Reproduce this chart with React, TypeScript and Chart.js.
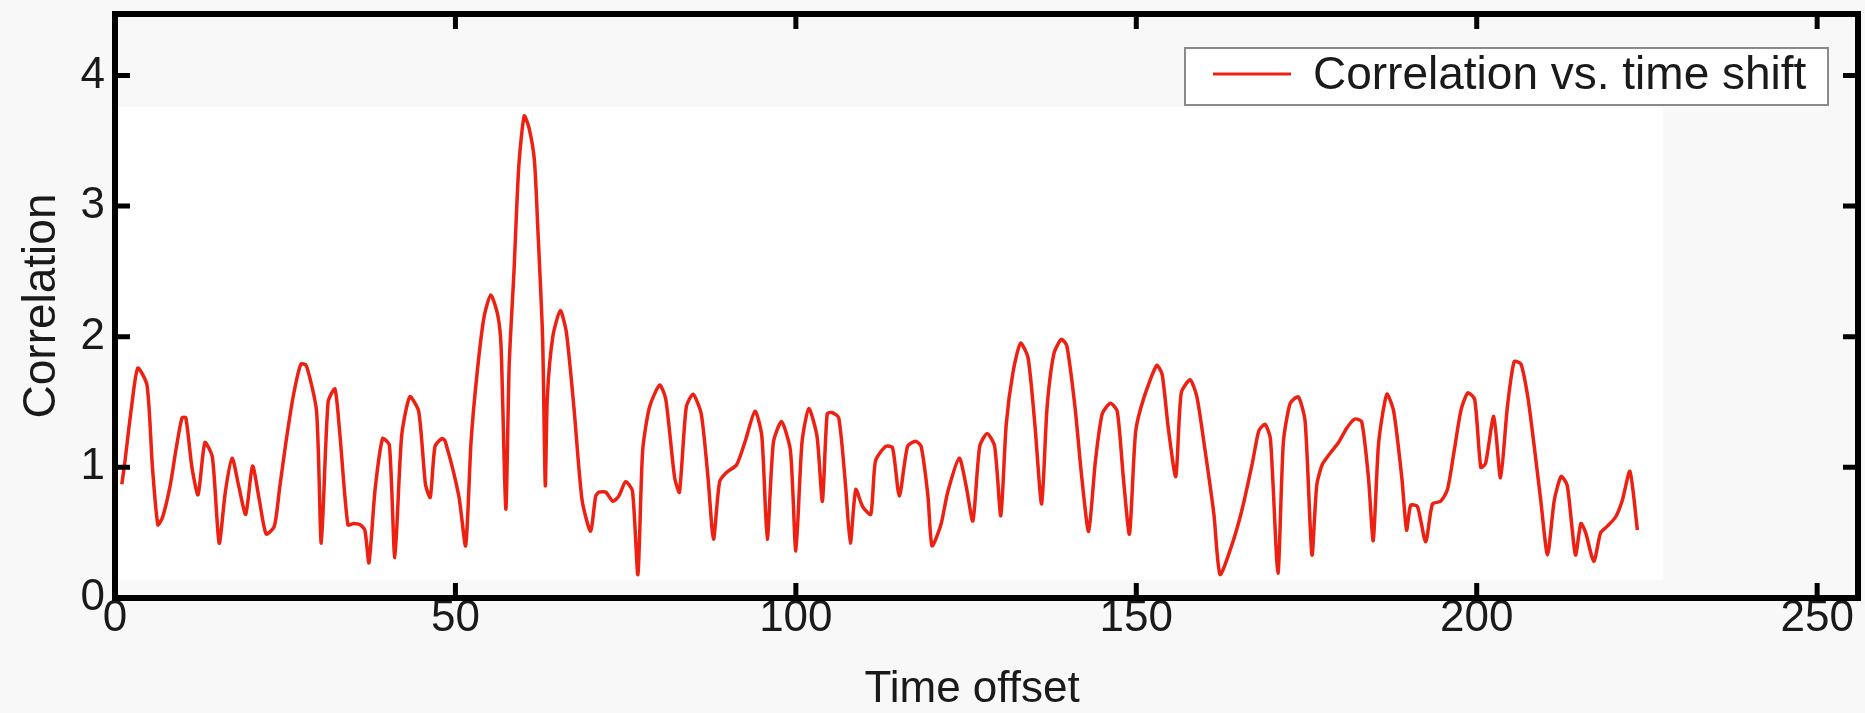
import React, { useEffect, useRef } from "react";
import { Chart, registerables } from "chart.js";

Chart.register(...registerables);

// ---- data ----
const timeOffsets = [
  1.0, 1.4, 2.4, 3.35, 4.7, 5.5, 6.3, 7.0, 8.1, 9.0, 9.85, 10.4, 11.3, 12.2, 13.2, 14.3, 15.3, 16.2, 17.2, 18.2,
  19.2, 20.2, 21.2, 22.2, 23.4, 24.2, 25.1, 26.2, 27.3, 28.1, 29.6, 30.3, 31.3, 32.3, 33.0, 34.2, 35.0, 36.0, 36.7,
  37.3, 38.2, 39.3, 40.3, 41.1, 42.1, 43.3, 44.6, 45.6, 46.3, 47.0, 48.0, 48.5, 50.5, 51.5, 52.3, 53.2, 54.2, 55.2,
  56.2, 56.7, 57.4, 57.9, 58.6, 59.3, 60.1, 60.8, 61.6, 62.1, 62.8, 63.2, 63.5, 64.3, 65.4, 66.3, 67.4, 68.6, 69.85,
  70.6, 71.1, 72.1, 73.1, 74.0, 75.0, 76.0, 76.8, 77.5, 78.5, 80.0, 80.9, 82.2, 82.9, 83.9, 84.9, 86.1, 87.1, 87.9,
  88.8, 89.8, 91.3, 92.5, 94.0, 95.0, 95.8, 96.7, 97.9, 99.2, 100.0, 100.9, 101.9, 103.1, 103.9, 104.6, 105.3, 106.3,
  107.3, 108.0, 108.8, 109.8, 111.0, 111.7, 113.2, 114.2, 115.2, 116.4, 117.6, 118.4, 119.4, 120.0, 121.3, 122.3,
  124.0, 125.0, 126.0, 127.0, 128.1, 129.2, 130.1, 130.9, 131.9, 133.0, 134.1, 135.1, 136.1, 136.9, 137.9, 139.0,
  139.8, 141.0, 142.0, 143.0, 144.0, 145.0, 146.2, 147.2, 148.1, 149.0, 149.9, 151.1, 153.0, 153.8, 154.7, 155.8,
  156.6, 157.9, 158.9, 160.1, 161.4, 162.3, 164.0, 165.5, 167.0, 168.0, 168.9, 169.7, 170.8, 171.6, 172.6, 173.8,
  174.8, 175.8, 176.5, 177.3, 178.5, 179.7, 180.9, 182.1, 183.1, 184.1, 184.8, 185.6, 186.8, 187.8, 189.0, 189.7,
  190.3, 191.3, 192.5, 193.5, 194.7, 195.7, 196.7, 197.7, 198.7, 199.7, 200.6, 201.3, 202.5, 203.5, 204.5, 205.5,
  206.5, 207.5, 208.4, 209.4, 210.4, 211.4, 212.4, 213.3, 214.5, 215.3, 216.0, 217.2, 218.2, 219.2, 220.4, 221.4,
  222.5, 223.6,
];

const correlationValues = [
  0.87, 1.02, 1.45, 1.76, 1.63, 1.0, 0.56, 0.62, 0.86, 1.15, 1.38, 1.38, 1.0, 0.79, 1.19, 1.08, 0.42, 0.81, 1.07, 0.85,
  0.64, 1.01, 0.75, 0.49, 0.55, 0.85, 1.19, 1.55, 1.79, 1.78, 1.43, 0.42, 1.5, 1.6, 1.27, 0.56, 0.57, 0.56, 0.52,
  0.27, 0.83, 1.22, 1.17, 0.31, 1.24, 1.54, 1.43, 0.87, 0.77, 1.16, 1.22, 1.2, 0.78, 0.4, 1.2, 1.73, 2.15, 2.32,
  2.17, 1.93, 0.68, 1.79, 2.5, 3.3, 3.69, 3.6, 3.35, 2.83, 2.0, 0.86, 1.54, 2.0, 2.2, 2.03, 1.46, 0.75, 0.51,
  0.78, 0.81, 0.81, 0.74, 0.78, 0.89, 0.82, 0.18, 1.13, 1.46, 1.63, 1.52, 0.92, 0.81, 1.46, 1.56, 1.41, 0.92, 0.45,
  0.89, 0.96, 1.02, 1.19, 1.43, 1.24, 0.45, 1.19, 1.35, 1.13, 0.36, 1.19, 1.45, 1.24, 0.74, 1.41, 1.42, 1.38,
  0.86, 0.42, 0.83, 0.7, 0.64, 1.05, 1.16, 1.15, 0.78, 1.16, 1.2, 1.16, 0.78, 0.4, 0.56, 0.81,
  1.07, 0.86, 0.59, 1.16, 1.26, 1.16, 0.63, 1.33, 1.73, 1.95, 1.84, 1.33, 0.72, 1.46, 1.87, 1.98,
  1.93, 1.46, 0.92, 0.51, 1.05, 1.41, 1.49, 1.43, 0.92, 0.49, 1.27, 1.53, 1.78, 1.71, 1.3, 0.93,
  1.57, 1.67, 1.54, 1.13, 0.64, 0.18, 0.4, 0.67, 1.02, 1.28, 1.33, 1.22, 0.19, 1.19, 1.49, 1.54,
  1.35, 0.33, 0.86, 1.02, 1.11, 1.19, 1.3, 1.37, 1.35, 0.92, 0.44, 1.19, 1.56, 1.43, 0.92, 0.52,
  0.71, 0.7, 0.43, 0.72, 0.74, 0.83, 1.13, 1.44, 1.57, 1.52, 1.0, 1.03, 1.39, 0.92, 1.46, 1.81,
  1.79, 1.54, 1.18, 0.75, 0.33, 0.75, 0.93, 0.86, 0.33, 0.57, 0.5, 0.28, 0.5, 0.55, 0.62, 0.75,
  0.97, 0.52,
];

const xTickValues = [0, 50, 100, 150, 200, 250];
const yTickValues = [0, 1, 2, 3, 4];
const X_MIN = 0;
const X_MAX = 256;
const Y_MIN = 0;
const Y_MAX = 4.47;

const SERIES_LABEL = "Correlation vs. time shift";
const X_TITLE = "Time offset";
const Y_TITLE = "Correlation";

// ---- styling ----
const LINE_COLOR = "#ee2012";
const TEXT_COLOR = "#1a1a1a";
const PAGE_BG = "#f8f8f8";
const FONT_FAMILY = '"Liberation Sans", Arial, Helvetica, sans-serif';
// lighter (white) background patch behind the trace, as in the reference image (data units)
const whitePatchX = [0, 227.4];
const whitePatchY = [0.14, 3.76];

const backgroundPlugin = {
  id: "bgPatch",
  beforeDraw(chart: any) {
    const { ctx, scales } = chart;
    ctx.save();
    ctx.fillStyle = PAGE_BG;
    ctx.fillRect(0, 0, chart.width, chart.height);
    const x0 = scales.x.getPixelForValue(whitePatchX[0]);
    const x1 = scales.x.getPixelForValue(whitePatchX[1]);
    const y0 = scales.y.getPixelForValue(whitePatchY[1]);
    const y1 = scales.y.getPixelForValue(whitePatchY[0]);
    ctx.fillStyle = "#ffffff";
    ctx.fillRect(x0, y0, x1 - x0, y1 - y0);
    ctx.restore();
  },
};

const framePlugin = {
  id: "frame",
  afterDatasetsDraw(chart: any) {
    const { ctx, chartArea, scales } = chart;
    const { left, right, top, bottom } = chartArea;
    ctx.save();
    ctx.strokeStyle = "#000";
    ctx.lineWidth = 6;
    ctx.lineCap = "butt";
    ctx.strokeRect(left, top, right - left, bottom - top);
    const len = 15;
    ctx.lineWidth = 5;
    ctx.beginPath();
    xTickValues.forEach((v) => {
      if (v <= X_MIN) return;
      const px = scales.x.getPixelForValue(v);
      ctx.moveTo(px, bottom);
      ctx.lineTo(px, bottom - len);
      ctx.moveTo(px, top);
      ctx.lineTo(px, top + len);
    });
    yTickValues.forEach((v) => {
      if (v <= Y_MIN) return;
      const py = scales.y.getPixelForValue(v);
      ctx.moveTo(left, py);
      ctx.lineTo(left + len, py);
      ctx.moveTo(right, py);
      ctx.lineTo(right - len, py);
    });
    ctx.stroke();

    // x-axis title, centred under the labelled tick range as in the reference
    const x0 = scales.x.getPixelForValue(xTickValues[0]);
    const x1 = scales.x.getPixelForValue(xTickValues[xTickValues.length - 1]);
    ctx.fillStyle = TEXT_COLOR;
    ctx.font = `44px ${FONT_FAMILY}`;
    ctx.textAlign = "center";
    ctx.textBaseline = "middle";
    ctx.fillText(X_TITLE, (x0 + x1) / 2 + 6, chart.height - 23);
    ctx.restore();
  },
};

const legendPlugin = {
  id: "boxLegend",
  afterDraw(chart: any) {
    const { ctx, chartArea } = chart;
    const boxRight = chartArea.right - 30;
    const boxTop = chartArea.top + 34;
    const boxW = 643;
    const boxH = 57;
    const boxLeft = boxRight - boxW;
    ctx.save();
    ctx.fillStyle = "#ffffff";
    ctx.fillRect(boxLeft, boxTop, boxW, boxH);
    ctx.strokeStyle = "#8a8a8a";
    ctx.lineWidth = 2;
    ctx.strokeRect(boxLeft, boxTop, boxW, boxH);
    ctx.strokeStyle = LINE_COLOR;
    ctx.lineWidth = 3;
    ctx.beginPath();
    ctx.moveTo(boxLeft + 28, boxTop + 26);
    ctx.lineTo(boxLeft + 106, boxTop + 26);
    ctx.stroke();
    ctx.fillStyle = TEXT_COLOR;
    ctx.font = `46px ${FONT_FAMILY}`;
    ctx.textBaseline = "middle";
    ctx.textAlign = "left";
    ctx.fillText(chart.data.datasets[0].label, boxLeft + 128, boxTop + 28);
    ctx.restore();
  },
};

export default function App() {
  const canvasRef = useRef<HTMLCanvasElement | null>(null);

  useEffect(() => {
    if (!canvasRef.current) return;
    const points = timeOffsets.map((x, i) => ({ x, y: correlationValues[i] }));
    const chart = new Chart(canvasRef.current, {
      type: "line",
      data: {
        datasets: [
          {
            label: SERIES_LABEL,
            data: points,
            borderColor: LINE_COLOR,
            backgroundColor: LINE_COLOR,
            borderWidth: 3.5,
            pointRadius: 0,
            tension: 0.22,
            fill: false,
          },
        ],
      },
      options: {
        responsive: false,
        animation: false,
        devicePixelRatio: 1,
        layout: { padding: { top: 14, right: 7, left: 0, bottom: 0 } },
        plugins: { legend: { display: false }, tooltip: { enabled: false } },
        scales: {
          x: {
            type: "linear",
            min: X_MIN,
            max: X_MAX,
            afterFit: (s: any) => {
              s.height = 115;
              s.paddingLeft = 0;
              s.paddingRight = 0;
            },
            afterBuildTicks: (s: any) => {
              s.ticks = xTickValues.map((v) => ({ value: v }));
            },
            ticks: {
              autoSkip: false,
              maxRotation: 0,
              includeBounds: false,
              color: TEXT_COLOR,
              padding: -1,
              font: { family: FONT_FAMILY, size: 44, lineHeight: 1 },
              callback: (v: any) => String(v),
            },
            grid: { display: false, drawTicks: false },
            border: { display: false },
            title: { display: false, text: X_TITLE },
          },
          y: {
            type: "linear",
            min: Y_MIN,
            max: Y_MAX,
            afterFit: (s: any) => {
              s.width = 115;
              s.paddingTop = 0;
              s.paddingBottom = 0;
            },
            afterBuildTicks: (s: any) => {
              s.ticks = yTickValues.map((v) => ({ value: v }));
            },
            ticks: {
              autoSkip: false,
              includeBounds: false,
              color: TEXT_COLOR,
              padding: 10,
              font: { family: FONT_FAMILY, size: 44, lineHeight: 1 },
              callback: (v: any) => String(v),
            },
            grid: { display: false, drawTicks: false },
            border: { display: false },
            title: {
              display: true,
              text: Y_TITLE,
              color: TEXT_COLOR,
              font: { family: FONT_FAMILY, size: 46, lineHeight: 1 },
              padding: { top: 19, bottom: 0 },
            },
          },
        },
      },
      plugins: [backgroundPlugin, framePlugin, legendPlugin],
    });
    return () => chart.destroy();
  }, []);

  return (
    <div
      style={{
        position: "fixed",
        left: 0,
        top: 0,
        width: 1865,
        height: 713,
        background: PAGE_BG,
      }}
    >
      <canvas ref={canvasRef} width={1865} height={713} style={{ width: 1865, height: 713, display: "block" }} />
    </div>
  );
}
